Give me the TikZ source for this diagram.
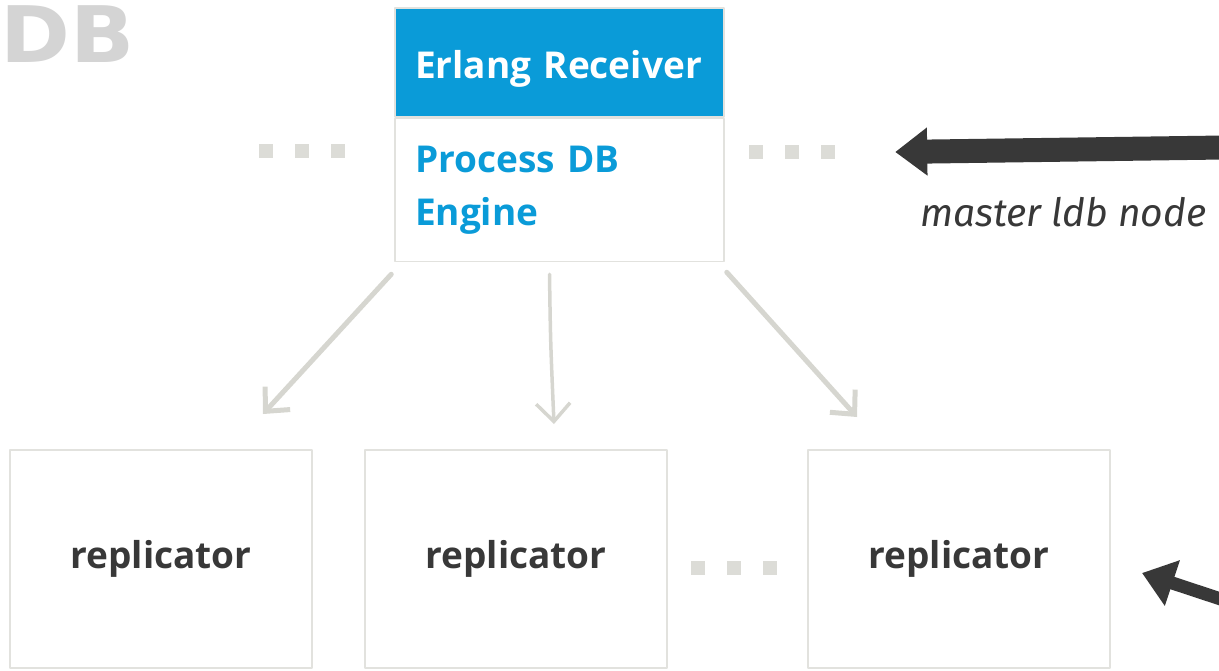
\documentclass[tikz,border=0pt]{standalone}
\usepackage{fontspec}
\setmainfont{Open Sans}
\newfontfamily\handfont{Fira Sans}
\newfontfamily\logofont{DejaVu Sans}[FakeStretch=1.08]
\usetikzlibrary{arrows.meta,positioning,calc}

\definecolor{recvblue}{HTML}{0A9BD8}
\definecolor{framegray}{HTML}{E2E2DE}
\definecolor{linkgray}{HTML}{D6D6D0}
\definecolor{inkgray}{HTML}{383838}
\definecolor{dotgray}{HTML}{DCDCD7}
\definecolor{logogray}{HTML}{D4D4D4}

% three grey squares standing for "more of the same"
\newcommand{\gapdots}{\textcolor{dotgray}{\rule{14pt}{14pt}\hspace{22pt}\rule{14pt}{14pt}\hspace{22pt}\rule{14pt}{14pt}}}

\begin{document}
\begin{tikzpicture}[x=1pt, y=-1pt, line cap=round, line join=round,
    boxtext/.style={font=\fontsize{37}{53}\selectfont\bfseries},
    head/.style={boxtext, fill=recvblue, draw=framegray, line width=1.5pt, text=white,
      minimum width=329pt, minimum height=109pt, text width=289pt, inner xsep=20pt, align=left,
      text height=40pt, text depth=8pt},
    engine/.style={boxtext, draw=framegray, line width=1.5pt, text=recvblue,
      minimum width=329pt, minimum height=143pt, text width=289pt, inner xsep=20pt, align=left},
    repbox/.style={boxtext, draw=framegray, line width=2pt, text=inkgray,
      minimum width=302pt, minimum height=218pt},
    gap/.style={inner sep=0pt},
    link/.style={draw=linkgray, line width=5pt, -{Straight Barb[length=18pt,width=34pt]}},
    ink/.style={draw=inkgray, -{Triangle[length=32pt,width=46pt]}},
    hand/.style={font=\handfont\itshape\fontsize{39}{39}\selectfont, text=inkgray, inner sep=0pt}]
  \useasboundingbox (0,0) rectangle (1219,670);

  \node[font=\logofont\bfseries\fontsize{78}{78}\selectfont, text=logogray, inner sep=0pt, anchor=base west] (logo) at (0,62) {DB};

  % master side
  \node[head] (recv) at (559.5,62.5) {Erlang Receiver};
  \node[engine, below=0pt of recv] (proc) {Process DB\\Engine};
  \node[gap] (gapL) at (302,151) {\gapdots};
  \node[gap] (gapR) at (792,152) {\gapdots};

  % replicators
  \node[repbox] (rep1) at (161,559) {replicator};
  \node[repbox, right=51pt of rep1] (rep2) {replicator};
  \node[repbox, right=139pt of rep2] (rep3) {replicator};
  \node[gap] (gapB) at ($(rep2.east)!0.5!(rep3.west)+(-4,9)$) {\gapdots};

  \draw[link] ([shift={(-3,12)}]proc.south west) -- ([shift={(-50,-35)}]rep1.north east);
  \draw[link, line width=3.5pt] ([shift={(-10,12)}]proc.south) .. controls ([shift={(-9,80)}]proc.south) .. ([shift={(38,-25)}]rep2.north);
  \draw[link] ([shift={(2,10)}]proc.south east) -- ([shift={(50,-32)}]rep3.north west);

  % incoming from the master ldb node
  \coordinate (feedA) at (1260,147);
  \coordinate (feedB) at (1260,612);
  \draw[ink, line width=24pt] (feedA) -- ([xshift=60pt]gapR.east);
  \node[hand, anchor=base west] (master) at (920,226) {master ldb node};
  \draw[ink, line width=13pt] (feedB) -- ([shift={(31,14)}]rep3.east);
\end{tikzpicture}
\end{document}
